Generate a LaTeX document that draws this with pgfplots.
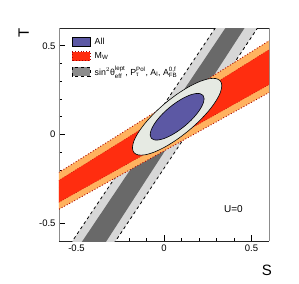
\documentclass[border=0pt]{standalone}
\usepackage{pgfplots}
\pgfplotsset{compat=1.18}
\usepackage{amsmath}
\usepackage{fontspec}
\setmainfont{Liberation Sans}
\definecolor{myblue}{RGB}{92,88,164}
\definecolor{ellfill}{RGB}{230,234,227}
\definecolor{myred}{RGB}{255,45,15}
\definecolor{myorange}{RGB}{255,178,95}
\definecolor{dred}{RGB}{170,0,0}
\definecolor{dgray}{RGB}{105,105,105}
\definecolor{lgray}{RGB}{215,215,215}
\definecolor{leggray}{RGB}{140,140,140}
\begin{document}
\begin{tikzpicture}
\useasboundingbox (-59bp,-43bp) rectangle (240bp,241bp);
\begin{axis}[
 at={(0,0)}, anchor=south west, scale only axis, width=210bp, height=213bp,
 xmin=-0.6, xmax=0.6, ymin=-0.6, ymax=0.6,
 xtick={-0.5,0,0.5}, ytick={-0.5,0,0.5},
 minor x tick num=4, minor y tick num=4,
 tick align=inside, xtick pos=left, ytick pos=left,
 major tick length=6bp, minor tick length=3bp,
 tick style={black, line width=0.6pt},
 separate axis lines,
 x axis line style={black!85, line width=0.7pt},
 y axis line style={black!45, line width=0.7pt},
 /pgf/number format/assume math mode=true,
 ticklabel style={font=\fontsize{9.5bp}{11bp}\selectfont},
 xlabel={S}, ylabel={T},
 xlabel style={at={(rel axis cs:1.0143,-0.1127)}, anchor=north east, inner sep=0pt, font=\fontsize{15bp}{17bp}\selectfont},
 ylabel style={at={(rel axis cs:-0.1429,1)}, anchor=south east, inner sep=0pt, font=\fontsize{15bp}{17bp}\selectfont},
 legend style={at={(rel axis cs:0.06,0.96)}, anchor=north west, draw=none, fill=none, inner sep=0pt,
   font=\fontsize{8.8bp}{10bp}\selectfont, row sep=4.5bp, nodes={inner sep=1bp}},
 legend cell align=left,
 legend image code/.code={\draw[#1] (0bp,-4.5bp) rectangle (18bp,4.5bp);},
]
% gray band (sin^2 theta etc.)
\addplot[fill=lgray, draw=none, forget plot] coordinates {(-0.591,-0.7) (0.361,0.7) (0.602,0.7) (-0.344,-0.7)} -- cycle;
\addplot[fill=dgray, draw=none, forget plot] coordinates {(-0.534,-0.7) (0.419,0.7) (0.526,0.7) (-0.394,-0.7)} -- cycle;
\addplot[black, dashed, line width=0.8pt, forget plot] coordinates {(-0.591,-0.7) (0.361,0.7)};
\addplot[black, dashed, line width=0.8pt, forget plot] coordinates {(-0.344,-0.7) (0.602,0.7)};
% M_W band
\addplot[fill=myorange, draw=none, forget plot] coordinates {(-0.7,-0.275) (0.7,0.590) (0.7,0.291) (-0.7,-0.476)} -- cycle;
\addplot[fill=myred, draw=none, forget plot] coordinates {(-0.7,-0.319) (0.7,0.539) (0.7,0.336) (-0.7,-0.437)} -- cycle;
\addplot[dred, dotted, line width=0.9pt, forget plot] coordinates {(-0.7,-0.275) (0.7,0.590)};
\addplot[dred, dotted, line width=0.9pt, forget plot] coordinates {(-0.7,-0.476) (0.7,0.291)};
\addplot[dred, dotted, line width=0.5pt, forget plot] coordinates {(-0.7,-0.319) (0.7,0.539)};
\addplot[dred, dotted, line width=0.5pt, forget plot] coordinates {(-0.7,-0.437) (0.7,0.336)};
% outer ellipse (all, 95%)
\addplot[fill=ellfill, draw=black, line width=0.6pt, smooth cycle, forget plot] coordinates {
(0.3216,0.3022) (0.2960,0.3154) (0.2553,0.3139) (0.2024,0.2978) (0.1407,0.2682) (0.0746,0.2272)
(0.0085,0.1775) (-0.0530,0.1226) (-0.1059,0.0660) (-0.1464,0.0118) (-0.1719,-0.0363) (-0.1804,-0.0752)
(-0.1716,-0.1022) (-0.1460,-0.1154) (-0.1053,-0.1139) (-0.0524,-0.0978) (0.0093,-0.0682) (0.0754,-0.0272)
(0.1415,0.0225) (0.2030,0.0774) (0.2559,0.1340) (0.2964,0.1882) (0.3219,0.2363) (0.3304,0.2752)};
% inner ellipse (all, 68%)
\addplot[fill=myblue, draw=black, line width=0.6pt, smooth cycle, forget plot] coordinates {
(0.2225,0.2210) (0.2060,0.2303) (0.1805,0.2306) (0.1479,0.2221) (0.1103,0.2052) (0.0703,0.1811)
(0.0306,0.1516) (-0.0061,0.1185) (-0.0373,0.0842) (-0.0607,0.0509) (-0.0749,0.0210) (-0.0790,-0.0035)
(-0.0725,-0.0210) (-0.0560,-0.0303) (-0.0305,-0.0306) (0.0021,-0.0221) (0.0397,-0.0052) (0.0797,0.0189)
(0.1194,0.0484) (0.1561,0.0815) (0.1873,0.1158) (0.2107,0.1491) (0.2249,0.1790) (0.2290,0.2035)};
\addlegendimage{fill=myblue, draw=black, line width=0.6pt}
\addlegendentry{\hspace{3bp}All}
\addlegendimage{fill=myred, draw=dred, dotted, line width=0.9pt}
\addlegendentry{\hspace{3bp}M$_{\text{W}}$}
\addlegendimage{fill=leggray, draw=black, dashed, line width=0.9pt}
\addlegendentry{\hspace{3bp}sin$^{2}\text{θ}_{\text{eff}}^{\text{lept}}$, P$_{\text{τ}}^{\text{Pol}}$, A$_{\text{l}}$, A$_{\text{FB}}^{\text{0,f}}$}
\node[font=\fontsize{10bp}{12bp}\selectfont] at (axis cs:0.397,-0.42) {U=0};
\end{axis}
\end{tikzpicture}
\end{document}
